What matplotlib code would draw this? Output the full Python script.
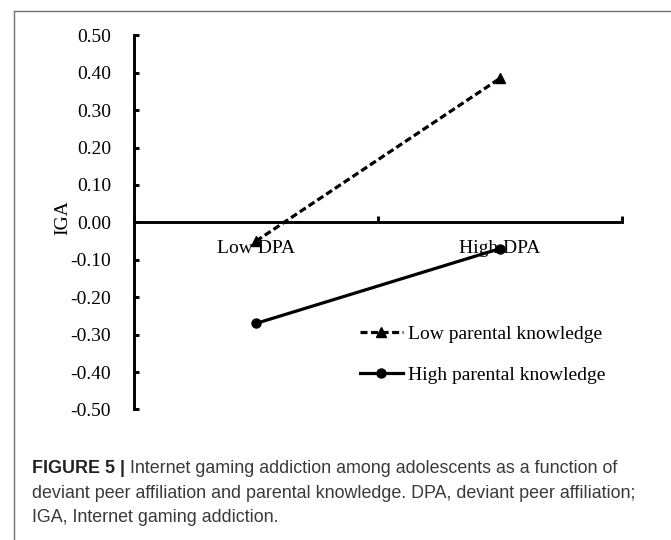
import matplotlib
matplotlib.use('Agg')
import matplotlib.pyplot as plt
from matplotlib.lines import Line2D

# data
categories = ['Low DPA', 'High DPA']
low_knowledge = [-0.05, 0.385]
high_knowledge = [-0.27, -0.07]
series_names = ['Low parental knowledge', 'High parental knowledge']
yticks = [-0.5, -0.4, -0.3, -0.2, -0.1, 0.0, 0.1, 0.2, 0.3, 0.4, 0.5]

caption_bold = 'FIGURE 5 |'
caption_lines = [' Internet gaming addiction among adolescents as a function of',
                 'deviant peer affiliation and parental knowledge. DPA, deviant peer affiliation;',
                 'IGA, Internet gaming addiction.']

W, H = 671, 540
plt.rcParams['font.family'] = 'Liberation Serif'
fig = plt.figure(figsize=(W / 100, H / 100), dpi=100)

# outer frame (only left and top edges visible)
fig.add_artist(Line2D([14 / W, 14 / W], [0, 1 - 10.7 / H], color='#707070', lw=1.0))
fig.add_artist(Line2D([14 / W, 1], [1 - 10.7 / H, 1 - 10.7 / H], color='#707070', lw=1.0))

ax = fig.add_axes([134 / W, 1 - 409.5 / H, 488 / W, 374.2 / H])
xpos = [0.5, 1.5]
ax.plot(xpos, low_knowledge, color='black', lw=2.3, ls=(0, (2.2, 1.1)),
        marker='^', ms=7, label=series_names[0])
ax.plot(xpos, high_knowledge, color='black', lw=2.3,
        marker='o', ms=6.5, label=series_names[1])

ax.set_xlim(0, 2)
ax.set_ylim(-0.5, 0.5)
for s in ['top', 'right']:
    ax.spines[s].set_visible(False)
ax.spines['bottom'].set_position(('data', 0))
ax.spines['left'].set_linewidth(2.1)
ax.spines['bottom'].set_linewidth(2.1)

fs = 14
ax.set_yticks(yticks)
ax.set_yticklabels([f'{v:.2f}' for v in yticks])
ax.tick_params(axis='y', direction='in', length=3.5, width=2.1, labelsize=fs, pad=16.5)

ax.set_xticks([0, 1, 2])
ax.set_xticklabels(['', '', ''])
ax.set_xticks(xpos, minor=True)
ax.set_xticklabels(categories, minor=True)
ax.tick_params(axis='x', which='major', direction='in', length=4, width=2.1)
ax.tick_params(axis='x', which='minor', length=0, labelsize=fs, pad=12.5)

ax.set_ylabel('IGA', fontsize=fs)
ax.yaxis.set_label_coords((71 - 134) / 488, (409.5 - 217.5) / 374.2)

ax.legend(loc='upper left', bbox_to_anchor=(360 / W, 1 - 325 / H),
          bbox_transform=fig.transFigure, frameon=False, fontsize=fs,
          handlelength=2.2, handletextpad=0.25, labelspacing=1.2,
          borderpad=0, borderaxespad=0, numpoints=1)

# caption
cap_font = dict(family='Liberation Sans', fontsize=12.9, va='baseline')
x0 = 31.7 / W
t = fig.text(x0, 1 - 473 / H, caption_bold, color='#222222', weight='bold', **cap_font)
fig.canvas.draw()
bb = t.get_window_extent()
fig.text(bb.x1 / W, 1 - 473 / H, caption_lines[0], color='#3a3a3a', **cap_font)
fig.text(x0, 1 - 497.5 / H, caption_lines[1], color='#3a3a3a', **cap_font)
fig.text(x0, 1 - 522 / H, caption_lines[2], color='#3a3a3a', **cap_font)

fig.savefig('out.png', dpi=100)
